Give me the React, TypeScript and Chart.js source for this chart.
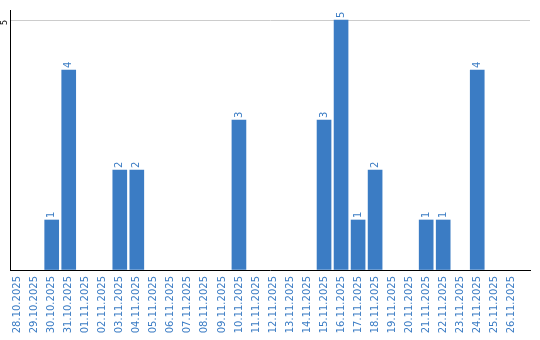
import React, { useEffect, useRef } from "react";
import { Chart, registerables } from "chart.js";

Chart.register(...registerables);

const dateLabels: string[] = [
  "28.10.2025", "29.10.2025", "30.10.2025", "31.10.2025",
  "01.11.2025", "02.11.2025", "03.11.2025", "04.11.2025", "05.11.2025",
  "06.11.2025", "07.11.2025", "08.11.2025", "09.11.2025", "10.11.2025",
  "11.11.2025", "12.11.2025", "13.11.2025", "14.11.2025", "15.11.2025",
  "16.11.2025", "17.11.2025", "18.11.2025", "19.11.2025", "20.11.2025",
  "21.11.2025", "22.11.2025", "23.11.2025", "24.11.2025", "25.11.2025",
  "26.11.2025",
];

const counts: number[] = [
  0, 0, 1, 4,
  0, 0, 2, 2, 0,
  0, 0, 0, 0, 3,
  0, 0, 0, 0, 3,
  5, 1, 2, 0, 0,
  1, 1, 0, 4, 0,
  0,
];

const yTickLabels: number[] = [5];

const BLUE = "#3b7cc4";
const FONT = "'DejaVu Sans', Verdana, sans-serif";

const valueLabelPlugin = {
  id: "valueLabels",
  afterDatasetsDraw(chart: any) {
    const ctx = chart.ctx;
    const meta = chart.getDatasetMeta(0);
    ctx.save();
    ctx.fillStyle = BLUE;
    ctx.font = `10px ${FONT}`;
    ctx.textAlign = "left";
    ctx.textBaseline = "middle";
    meta.data.forEach((el: any, i: number) => {
      const raw = chart.data.datasets[0].data[i];
      if (!raw || raw.y == null) return;
      ctx.save();
      ctx.translate(el.x, el.y - 2);
      ctx.rotate(-Math.PI / 2);
      ctx.fillText(String(raw.y), 0, 0);
      ctx.restore();
    });
    const ys = chart.scales.y;
    ctx.fillStyle = "#000";
    ctx.font = `8px ${FONT}`;
    ctx.textAlign = "center";
    ctx.textBaseline = "middle";
    yTickLabels.forEach((v) => {
      const py = ys.getPixelForValue(v);
      ctx.save();
      ctx.translate(chart.chartArea.left - 5, py + 2.5);
      ctx.rotate(-Math.PI / 2);
      ctx.fillText(String(v), 0, 0);
      ctx.restore();
    });
    ctx.restore();
  },
};

export default function App() {
  const ref = useRef<HTMLCanvasElement | null>(null);

  useEffect(() => {
    document.body.style.margin = "0";
    const canvas = ref.current!;
    const data = counts.map((c, i) => ({ x: i, y: c > 0 ? c : null }));
    const chart = new Chart(canvas, {
      type: "bar",
      data: {
        datasets: [
          {
            data: data as any,
            backgroundColor: BLUE,
            borderWidth: 0,
            barThickness: 14,
          },
        ],
      },
      options: {
        animation: false,
        responsive: false,
        maintainAspectRatio: false,
        layout: { padding: { left: 10, right: 10, top: 10, bottom: 0 } },
        plugins: { legend: { display: false }, tooltip: { enabled: false } },
        scales: {
          x: {
            type: "linear",
            offset: false,
            min: -0.45,
            max: 30.1,
            afterFit: (scale: any) => {
              scale.height = 70;
              scale.paddingLeft = 0;
              scale.paddingRight = 0;
            },
            grid: { display: false, drawTicks: false, offset: false },
            border: { display: true, color: "#000", width: 1 },
            ticks: {
              stepSize: 1,
              includeBounds: false,
              autoSkip: false,
              minRotation: 90,
              maxRotation: 90,
              padding: 6,
              color: BLUE,
              font: { family: FONT, size: 10 },
              callback: (v: any) => {
                const n = Number(v);
                return Number.isInteger(n) && dateLabels[n] ? dateLabels[n] : "";
              },
            },
          },
          y: {
            min: 0,
            max: 5.2,
            afterFit: (scale: any) => {
              scale.width = 0;
              scale.paddingTop = 0;
              scale.paddingBottom = 0;
            },
            grid: {
              drawTicks: false,
              color: (c: any) =>
                c.tick && Math.abs(c.tick.value - 5) < 1e-6 ? "#cccccc" : "rgba(0,0,0,0)",
              lineWidth: 1,
            },
            border: { display: true, color: "#000", width: 1 },
            ticks: { display: false, stepSize: 1, includeBounds: false },
          },
        },
      },
      plugins: [valueLabelPlugin],
    });
    return () => chart.destroy();
  }, []);

  return <canvas ref={ref} width={540} height={340} style={{ display: "block" }} />;
}
